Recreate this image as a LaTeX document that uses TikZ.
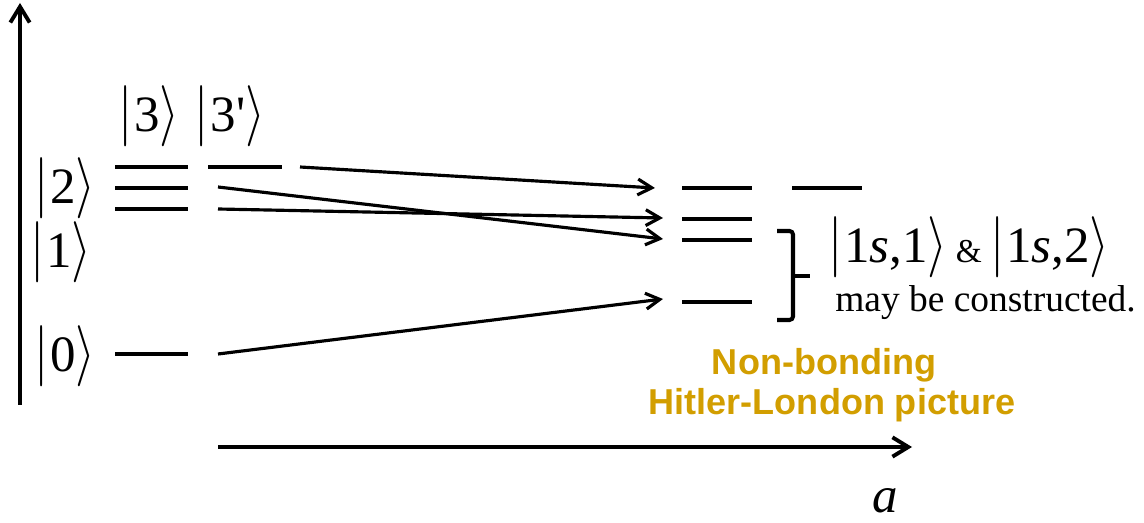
\RequirePackage{fix-cm}
\documentclass[tikz,border=0pt]{standalone}
\usepackage{fontspec}
\usepackage{graphicx}
\setmainfont{Liberation Serif}
\newfontfamily\arialfont{Liberation Sans}
\usetikzlibrary{arrows.meta}
\definecolor{gold}{RGB}{210,158,0}
\newcommand{\ketbar}{\scalebox{1}[1.2]{$|$}}
\newcommand{\ketang}{\scalebox{1}[1.2]{$\rangle$}}
\newcommand{\ket}[1]{\ketbar\kern0.03em\mbox{#1}\kern0.0em\ketang}
\tikzset{
  lvl/.style={line width=2.8pt},
  axis/.style={line width=2.2pt,-{Straight Barb[length=9pt,width=11pt,line width=2.2pt]}},
  conn/.style={line width=1.8pt,-{Straight Barb[length=8pt,width=9pt,line width=1.8pt]}},
  ketlab/.style={font=\fontsize{29}{34}\selectfont, inner sep=0pt, anchor=base},
}
\begin{document}
\begin{tikzpicture}[x=0.02cm,y=-0.02cm]
\useasboundingbox (0,0) rectangle (1144,523);
% axes
\coordinate (vb) at (20,405); \coordinate (vt) at (20,3);
\draw[axis] (vb) -- (vt);
\coordinate (hb) at (218,447); \coordinate (he) at (912,447);
\draw[axis] (hb) -- (he);
\node[font=\fontsize{29}{32}\selectfont\itshape, inner sep=0pt, anchor=base] (alab) at (885,513) {a};
% left levels
\draw[lvl] (115,167) -- (188,167);
\draw[lvl] (115,188) -- (188,188);
\draw[lvl] (115,209) -- (188,209);
\draw[lvl] (208,167) -- (282,167);
\draw[lvl] (115,354) -- (188,354);
% right levels
\draw[lvl] (682,188) -- (752,188);
\draw[lvl] (792,188) -- (862,188);
\draw[lvl] (682,219) -- (752,219);
\draw[lvl] (682,240) -- (752,240);
\draw[lvl] (682,302) -- (752,302);
% labels
\node[ketlab] (k3) at (149,132) {\ket{3}};
\node[ketlab] (k3p) at (230,132) {\ket{3\textquotesingle}};
\node[ketlab] (k2) at (65,204) {\ket{2}};
\node[ketlab] (k1) at (61,268) {\ket{1}};
\node[ketlab] (k0) at (65,372) {\ket{0}};
% connectors
\coordinate (s1) at (300,167); \coordinate (e1) at (655,188);
\coordinate (s2) at (218,187); \coordinate (e2) at (663,239);
\coordinate (s3) at (218,209); \coordinate (e3) at (663,218);
\coordinate (s4) at (218,354); \coordinate (e4) at (663,299);
\draw[conn] (s1) -- (e1);
\draw[conn] (s2) -- (e2);
\draw[conn] (s3) -- (e3);
\draw[conn] (s4) -- (e4);
% bracket
\draw[line width=2.3pt, rounded corners=2pt] (777,231) -- (793,231) -- (793,320) -- (777,320);
\draw[line width=2.3pt] (793,276) -- (810,276);
% right text
\node[ketlab, anchor=base west] (ket1s) at (828,263) {\ket{1\textit{s},1}\,{\fontsize{19}{20}\selectfont \&}\,\ket{1\textit{s},2}};
\node[font=\fontsize{21.3}{24}\selectfont, inner sep=0pt, anchor=base west] (mbc) at (835,312) {may be constructed.};
\node[font=\arialfont\bfseries\fontsize{20.5}{23}\selectfont, text=gold, inner sep=0pt, anchor=base] (nb1) at (824,375) {Non-bonding};
\node[font=\arialfont\bfseries\fontsize{20.5}{23}\selectfont, text=gold, inner sep=0pt, anchor=base] (nb2) at (832,415) {Hitler-London picture};
\end{tikzpicture}
\end{document}
